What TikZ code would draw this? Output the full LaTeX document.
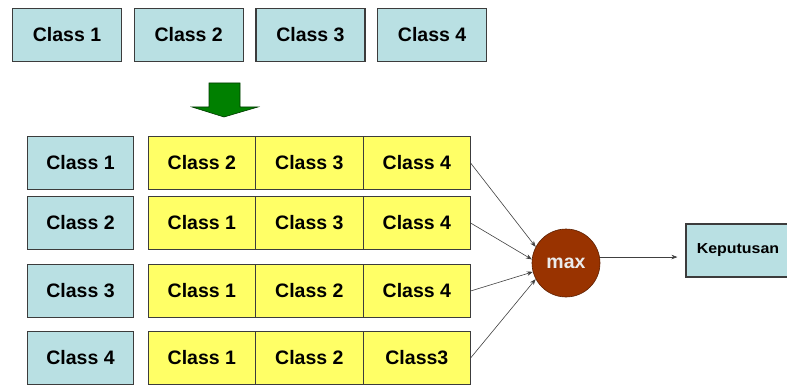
\documentclass[tikz,border=0pt]{standalone}
\usepackage{fontspec}
\setmainfont{Liberation Sans}
\usetikzlibrary{positioning,arrows.meta}

\definecolor{clsblue}{RGB}{185,224,227}
\definecolor{clsyellow}{RGB}{255,255,102}
\definecolor{maxred}{RGB}{153,51,0}
\definecolor{arrgreen}{RGB}{0,128,0}
\definecolor{edgegray}{RGB}{60,60,60}

\begin{document}
\begin{tikzpicture}[x=1pt, y=-1pt, every node/.style={font=\fontsize{19.5}{20}\selectfont\bfseries}]

	\tikzset{
	classbox/.style={draw=edgegray, line width=1.2pt, fill=clsblue, minimum height=53pt, inner sep=0pt},
	restbox/.style={draw=edgegray, line width=0.8pt, fill=clsyellow, minimum width=107.5pt, minimum height=53pt, inner sep=0pt, outer sep=0pt},
	link/.style={draw=black!75, line width=0.6pt, -{Stealth[length=6pt,width=4.5pt]}}
	}

	\useasboundingbox (0,0) rectangle (787,385);

	% Top row
	\node[classbox, minimum width=109pt] (top1) at (67,35) {Class 1};
	\node[classbox, minimum width=109pt, right=11.5pt of top1] (top2) {Class 2};
	\node[classbox, minimum width=109pt, right=11.5pt of top2] (top3) {Class 3};
	\node[classbox, minimum width=109pt, right=11.5pt of top3] (top4) {Class 4};

	% Down arrow
	\filldraw[fill=arrgreen, draw=arrgreen!45!black, line width=0.6pt]
		(209,83) -- (240,83) -- (240,107) -- (258,107) -- (224,117) -- (192,107) -- (209,107) -- cycle;

	% Left column
	\node[classbox, minimum width=106pt] (lab1) at (80.5,163) {Class 1};
	\node[classbox, minimum width=106pt] (lab2) at (80.5,223) {Class 2};
	\node[classbox, minimum width=106pt] (lab3) at (80.5,291) {Class 3};
	\node[classbox, minimum width=106pt] (lab4) at (80.5,358) {Class 4};

	% Rest of the classes
	\node[restbox, right=14pt of lab1] (r1c1) {Class 2};
	\node[restbox, right=0pt of r1c1] (r1c2) {Class 3};
	\node[restbox, right=0pt of r1c2] (r1c3) {Class 4};
	\node[restbox, right=14pt of lab2] (r2c1) {Class 1};
	\node[restbox, right=0pt of r2c1] (r2c2) {Class 3};
	\node[restbox, right=0pt of r2c2] (r2c3) {Class 4};
	\node[restbox, right=14pt of lab3] (r3c1) {Class 1};
	\node[restbox, right=0pt of r3c1] (r3c2) {Class 2};
	\node[restbox, right=0pt of r3c2] (r3c3) {Class 4};
	\node[restbox, right=14pt of lab4] (r4c1) {Class 1};
	\node[restbox, right=0pt of r4c1] (r4c2) {Class 2};
	\node[restbox, right=0pt of r4c2] (r4c3) {Class3};

	% Decision
	\node[circle, fill=maxred, draw=maxred!60!black, line width=0.6pt, minimum size=68pt, inner sep=0pt, text=white!92!black] (max) at (566,263) {max};
	\node[classbox, minimum width=108pt, font=\fontsize{14.5}{15}\selectfont\bfseries] (kep) at (740,250.5) {\hspace*{-4pt}\scalebox{1.1}[1]{Keputusan}};

	% Lines
	\draw[link] (r1c3.east) -- (max.152);
	\draw[link] (r2c3.east) -- (max.174);
	\draw[link] (r3c3.east) -- (max.195);
	\draw[link] (r4c3.east) -- (max.208);
	\draw[link, shorten >=8pt] (max.10) -- (max.10 -| kep.west);

\end{tikzpicture}
\end{document}
